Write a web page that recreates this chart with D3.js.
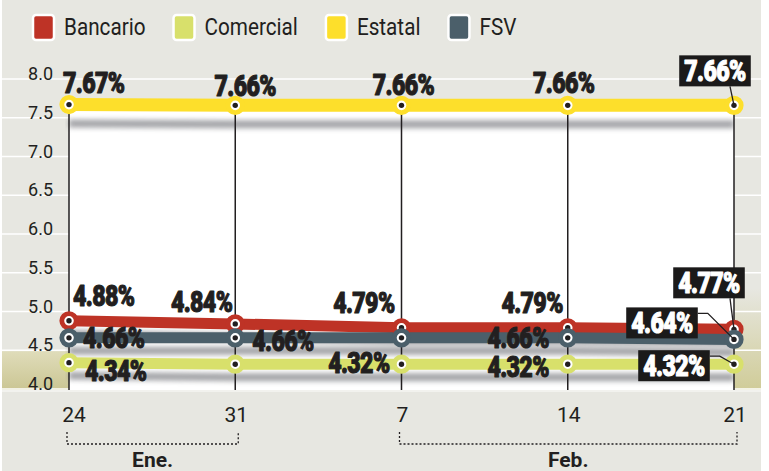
<!DOCTYPE html>
<html>
<head>
<meta charset="utf-8">
<script src="https://cdn.jsdelivr.net/npm/d3@7"></script>
<style>
  html, body { margin: 0; padding: 0; background: #fff; }
  svg { display: block; font-family: Roboto, "Noto Sans", sans-serif; }
</style>
</head>
<body>
<div id="chart"></div>
<script>
// data
const dates = ["24", "31", "7", "14", "21"];
const months = [
  { name: "Ene.", from: 0, to: 1 },
  { name: "Feb.", from: 2, to: 4 },
];
const seriesNames = ["Bancario", "Comercial", "Estatal", "FSV"];
const bancario = [4.88, 4.84, 4.79, 4.79, 4.77];
const comercial = [4.34, 4.32, 4.32, 4.32, 4.32];
const estatal = [7.67, 7.66, 7.66, 7.66, 7.66];
const fsv = [4.66, 4.66, 4.66, 4.66, 4.64];
const yTicks = [4.0, 4.5, 5.0, 5.5, 6.0, 6.5, 7.0, 7.5, 8.0];

const colors = {
  Bancario: "#be3326",
  Comercial: "#d8e06b",
  Estatal: "#fddf2b",
  FSV: "#4b5f6a",
};

// label placement for each point: [anchor, dx, dy] , "box" = boxed label at last date
const labelLayout = {
  Estatal: [["start", -6, -12], ["middle", 10, -9], ["middle", 2, -10], ["middle", -4, -12], ["box", -19, -24, "down"]],
  Bancario: [["start", 4, -15], ["end", -3, -12], ["end", -7, -15], ["end", -5, -15], ["box", -25, -36, "down"]],
  FSV: [["start", 14, 10], ["start", 17, 13], null, ["end", -19, 10], ["box", -72, -6, "elbow"]],
  Comercial: [["start", 16, 18], null, ["end", -12, 9], ["end", -19, 13], ["box", -60, 12, "elbow"]],
};

//svg size
const width = 769;
const height = 471;
const bg = { left: 2, right: 761 };
const plot = { left: 69, right: 734, top: 79, bottom: 389 };
const ink = "#221f20";

const svg = d3.select("#chart").append("svg")
    .attr("width", width)
    .attr("height", height);

const defs = svg.append("defs");
defs.append("filter").attr("id", "blur")
    .attr("filterUnits", "userSpaceOnUse")
    .attr("x", 0).attr("y", 0).attr("width", width).attr("height", height)
    .append("feGaussianBlur").attr("stdDeviation", 2.4);

const oliveL = defs.append("linearGradient").attr("id", "oliveL")
    .attr("x1", 0).attr("y1", 0).attr("x2", 0).attr("y2", 1);
oliveL.append("stop").attr("offset", "0%").attr("stop-color", "#dfdcba");
oliveL.append("stop").attr("offset", "100%").attr("stop-color", "#cbc693");

const oliveR = defs.append("linearGradient").attr("id", "oliveR")
    .attr("x1", 0).attr("y1", 0).attr("x2", 0).attr("y2", 1);
oliveR.append("stop").attr("offset", "0%").attr("stop-color", "#e7e7e1");
oliveR.append("stop").attr("offset", "100%").attr("stop-color", "#d0cc98");

const x = d3.scalePoint()
    .domain(d3.range(dates.length))
    .range([plot.left, plot.right]);

const y = d3.scaleLinear()
    .domain([4, 8])
    .range([plot.bottom, plot.top]);

const series = [
  { name: "Estatal", values: estatal },
  { name: "Bancario", values: bancario },
  { name: "FSV", values: fsv },
  { name: "Comercial", values: comercial },
];

//background
svg.append("rect")
    .attr("x", bg.left).attr("y", 0)
    .attr("width", bg.right - bg.left).attr("height", height)
    .attr("fill", "#e7e7e1");

svg.append("rect")
    .attr("x", bg.left).attr("y", y(4.5) + 1)
    .attr("width", plot.left - bg.left).attr("height", plot.bottom - y(4.5))
    .attr("fill", "url(#oliveL)");
svg.append("rect")
    .attr("x", plot.right).attr("y", y(5.3))
    .attr("width", bg.right - plot.right).attr("height", plot.bottom - y(5.3) + 1)
    .attr("fill", "url(#oliveR)");

//grid
svg.append("g")
    .selectAll("line")
    .data(yTicks)
    .join("line")
    .attr("x1", bg.left).attr("x2", bg.right)
    .attr("y1", (d) => y(d)).attr("y2", (d) => y(d))
    .attr("stroke", "#fff")
    .attr("stroke-width", 1.5);

svg.append("line")
    .attr("x1", bg.left).attr("x2", bg.right)
    .attr("y1", plot.bottom + 2).attr("y2", plot.bottom + 2)
    .attr("stroke", "#f6f6f2").attr("stroke-width", 1.5);

//white panel
const panelTop = y(d3.min(estatal)) + 3;
svg.append("rect")
    .attr("x", plot.left).attr("y", panelTop)
    .attr("width", plot.right - plot.left).attr("height", plot.bottom + 1 - panelTop)
    .attr("fill", "#fff");

defs.append("clipPath").attr("id", "panelClip")
    .append("rect")
    .attr("x", plot.left - 4).attr("y", panelTop)
    .attr("width", plot.right - plot.left + 4).attr("height", plot.bottom + 1 - panelTop);

//y labels
svg.append("g")
    .selectAll("text")
    .data(yTicks)
    .join("text")
    .attr("x", 53)
    .attr("y", (d) => y(d) + 1)
    .attr("text-anchor", "end")
    .attr("font-size", 18)
    .attr("fill", ink)
    .text((d) => d.toFixed(1));

//x labels
svg.append("g")
    .selectAll("text")
    .data(dates)
    .join("text")
    .attr("x", (d, i) => x(i) + (i === 0 ? 5 : 1))
    .attr("y", 422)
    .attr("text-anchor", "middle")
    .attr("font-size", 21)
    .attr("fill", ink)
    .text((d) => d);

//month brackets
const gMonth = svg.append("g");
months.forEach((m) => {
  const x0 = x(m.from) - 2;
  const x1 = x(m.to) + 3;
  gMonth.append("path")
      .attr("d", `M${x0},432V444H${x1}V432`)
      .attr("fill", "none")
      .attr("stroke", ink)
      .attr("stroke-width", 1.3)
      .attr("stroke-dasharray", "2,2");
  gMonth.append("text")
      .attr("x", (x0 + x1) / 2)
      .attr("y", 467)
      .attr("text-anchor", "middle")
      .attr("font-size", 21)
      .attr("font-weight", 700)
      .attr("fill", ink)
      .text(m.name);
});

//shadows
const line = d3.line()
    .x((d, i) => x(i))
    .y((d) => y(d));

svg.append("g")
    .attr("clip-path", "url(#panelClip)")
    .selectAll("path")
    .data(series)
    .join("path")
    .attr("d", (d) => line(d.values))
    .attr("transform", (d) => `translate(0,${d.name === "Estatal" ? 19 : 13})`)
    .attr("fill", "none")
    .attr("stroke", "#86878c")
    .attr("stroke-width", 8)
    .attr("opacity", 0.75)
    .attr("filter", "url(#blur)");

//drop lines
svg.append("g")
    .selectAll("line")
    .data(dates)
    .join("line")
    .attr("x1", (d, i) => x(i)).attr("x2", (d, i) => x(i))
    .attr("y1", (d, i) => y(estatal[i]))
    .attr("y2", plot.bottom + 1)
    .attr("stroke", ink)
    .attr("stroke-width", 1.5);

//series lines
svg.append("g")
    .selectAll("path")
    .data(series)
    .join("path")
    .attr("d", (d) => line(d.values))
    .attr("fill", "none")
    .attr("stroke", (d) => colors[d.name])
    .attr("stroke-width", (d) => (d.name === "Estatal" ? 13 : 11));

//points
series.forEach((s) => {
  const g = svg.append("g");
  g.selectAll("circle.ring")
      .data(s.values)
      .join("circle")
      .attr("class", "ring")
      .attr("cx", (d, i) => x(i))
      .attr("cy", (d) => y(d))
      .attr("r", 7.2)
      .attr("fill", "#fff")
      .attr("stroke", colors[s.name])
      .attr("stroke-width", 4.8);
  g.selectAll("circle.core")
      .data(s.values)
      .join("circle")
      .attr("class", "core")
      .attr("cx", (d, i) => x(i))
      .attr("cy", (d) => y(d))
      .attr("r", 2.7)
      .attr("fill", ink);
});

//value labels
const gLabel = svg.append("g");
const stretch = 0.8;

function valueLabel(px, py, value, layout) {
  const [anchor, dx, dy, leader] = layout;
  const boxed = anchor === "box";
  const color = boxed ? "#fff" : ink;
  const g = gLabel.append("g").attr("transform", `translate(${px + dx},${py + dy})`);
  const rect = boxed ? g.append("rect") : null;
  const t = g.append("text")
      .attr("transform", `scale(${stretch},1)`)
      .attr("text-anchor", boxed ? "middle" : anchor)
      .attr("font-size", 29)
      .attr("font-weight", 900)
      .attr("letter-spacing", -0.8)
      .attr("fill", color)
      .attr("stroke", color)
      .attr("stroke-width", 1.1)
      .attr("stroke-linejoin", "round")
      .text(value.toFixed(2) + "%");
  if (!boxed) return;

  const bb = t.node().getBBox();
  const w = bb.width * stretch + 10;
  const bx = -w / 2;
  const by = -26;
  const bh = 31;
  rect.attr("x", bx).attr("y", by).attr("width", w).attr("height", bh).attr("fill", "#1b1a1a");

  //leader to the point
  const ox = px + dx;
  const oy = py + dy;
  let d;
  if (leader === "down") {
    d = `M${px - (px - ox > 5 ? 4 : 0)},${oy + by + bh}L${px},${py}`;
  } else {
    const ry = oy + by + 6;
    const rx = ox + bx + w;
    d = `M${rx},${ry}H${rx + 10}L${px},${py}`;
  }
  gLabel.insert("path", ":first-child")
      .attr("d", d)
      .attr("fill", "none")
      .attr("stroke", ink)
      .attr("stroke-width", 1.3);
}

series.forEach((s) => {
  s.values.forEach((v, i) => {
    const layout = labelLayout[s.name][i];
    if (layout) valueLabel(x(i), y(v), v, layout);
  });
});

//legend
const gLegend = svg.append("g").attr("transform", "translate(33,27)");
let cursor = 0;
seriesNames.forEach((name) => {
  const item = gLegend.append("g").attr("transform", `translate(${cursor},0)`);
  item.append("rect")
      .attr("x", 0).attr("y", -12)
      .attr("width", 21).attr("height", 25)
      .attr("rx", 3)
      .attr("fill", colors[name])
      .attr("stroke", "#fff")
      .attr("stroke-width", 2.5);
  const t = item.append("text")
      .attr("transform", "translate(31,8) scale(0.9,1)")
      .attr("font-size", 23)
      .attr("fill", ink)
      .text(name);
  cursor += 31 + t.node().getBBox().width * 0.9 + 28;
});
</script>
</body>
</html>
